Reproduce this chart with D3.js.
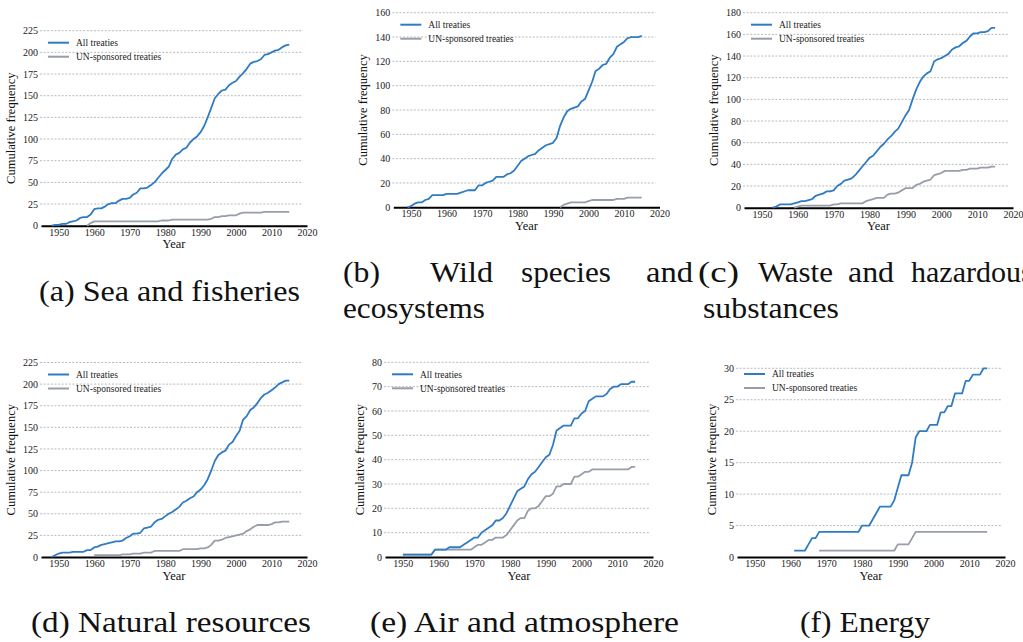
<!DOCTYPE html>
<html><head><meta charset="utf-8">
<script src="https://cdn.jsdelivr.net/npm/d3@7/dist/d3.min.js"></script>
<style>
body{margin:0;background:#fff}
svg{display:block}
svg text{font-family:"Liberation Serif","DejaVu Serif","Times New Roman",serif}
</style>
</head><body>
<svg id="chart" width="1023" height="642"></svg>
<script>
// ---------- data (cumulative counts per year) ----------
const xTickLabels = [1950, 1960, 1970, 1980, 1990, 2000, 2010, 2020];
const seriesNames = ["All treaties", "UN-sponsored treaties"];

const seaAllStart = 1948;
const seaAll = [0,1,1,2,2,4,5,6,9,10,10,13,19,20,20,22,25,26,26,29,31,31,32,36,38,43,43,44,47,50,55,60,64,68,77,82,84,88,90,96,100,103,108,115,125,136,147,152,156,157,162,165,167,172,176,181,187,189,190,192,197,198,200,202,203,206,208,209];
const seaUNStart = 1958;
const seaUN = [0,3,5,5,5,5,5,5,5,5,5,5,5,5,5,5,5,5,5,5,5,6,6,6,7,7,7,7,7,7,7,7,7,7,7,8,10,10,11,11,12,12,12,14,15,15,15,15,15,15,16,16,16,16,16,16,16,16];

const wildAllStart = 1949;
const wildAll = [0,1,3,4,4,6,7,10,10,10,10,11,11,11,11,12,13,14,14,14,18,18,20,21,22,25,25,25,27,28,30,34,38,40,42,43,44,47,49,51,52,53,57,67,74,79,81,82,83,87,89,96,103,112,114,117,118,123,126,132,134,136,139,140,140,140,141];
const wildUNStart = 1992;
const wildUN = [0,2,3,4,4,4,4,4,5,6,6,6,6,6,6,6,7,7,7,8,8,8,8,8];

const wasteAllStart = 1953;
const wasteAll = [0,1,3,3,3,3,4,5,6,6,7,8,11,12,13,15,15,16,20,22,25,26,27,30,34,38,42,46,48,52,56,59,63,66,70,73,79,85,90,100,109,116,121,124,126,135,137,138,140,142,146,148,149,152,154,158,161,161,162,162,163,166,166];
const wasteUNStart = 1959;
const wasteUN = [0,1,2,2,2,2,2,2,2,2,2,3,3,4,4,4,4,4,4,4,6,7,8,9,9,9,12,13,13,14,16,18,18,18,21,22,24,25,26,30,31,32,34,34,34,34,34,35,35,36,36,36,37,37,37,38,38];

const natAllStart = 1948;
const natAll = [0,2,4,5,5,5,6,6,6,6,8,8,11,12,14,15,16,17,18,18,19,22,24,27,27,28,33,34,35,40,43,44,47,50,52,55,58,63,65,68,70,75,78,83,90,100,111,118,121,123,130,133,140,146,159,163,170,173,178,184,188,190,193,196,200,202,204,204];
const natUNStart = 1960;
const natUN = [2,2,2,2,2,2,2,2,3,3,3,4,4,4,5,5,5,7,7,7,7,7,7,7,7,9,9,9,9,9,10,10,11,14,19,19,20,22,23,24,25,26,27,30,32,35,37,37,37,37,38,40,40,41,41,41];

const airAllStart = 1950;
const airAll = [1,1,1,1,1,1,1,1,1,3,3,3,3,4,4,4,4,5,6,7,8,8,10,11,12,13,15,15,16,18,21,24,27,28,29,32,34,35,37,39,41,42,46,52,53,54,54,54,57,57,59,60,64,65,66,66,66,67,69,70,70,71,71,71,72,72];
const airUNStart = 1950;
const airUN = [1,1,1,1,1,1,1,1,1,3,3,3,3,3,3,3,3,3,3,3,4,5,5,6,7,7,8,8,8,9,11,13,15,16,16,19,20,20,21,23,25,25,26,29,29,30,30,30,33,33,34,35,35,36,36,36,36,36,36,36,36,36,36,36,37,37];

const energyAllStart = 1961;
const energyAll = [1,1,1,1,2,3,3,4,4,4,4,4,4,4,4,4,4,4,4,5,5,5,6,7,8,8,8,8,9,11,13,13,13,15,19,20,20,20,21,21,21,23,23,24,24,26,26,26,28,28,29,29,29,30,30];
const energyUNStart = 1968;
const energyUN = [1,1,1,1,1,1,1,1,1,1,1,1,1,1,1,1,1,1,1,1,1,1,2,2,2,2,3,4,4,4,4,4,4,4,4,4,4,4,4,4,4,4,4,4,4,4,4,4];

const seaTicks = [0,25,50,75,100,125,150,175,200,225];
const wildTicks = [0,20,40,60,80,100,120,140,160];
const wasteTicks = [0,20,40,60,80,100,120,140,160,180];
const natTicks = [0,25,50,75,100,125,150,175,200,225];
const airTicks = [0,10,20,30,40,50,60,70,80];
const energyTicks = [0,5,10,15,20,25,30];

// ---------- layout ----------
const BLUE = "#2f7bc4", GREY = "#989dab";
const svg = d3.select("#chart");

const toPts = (start, vals) => vals.map((v, i) => [start + i, v]);

const panels = [
  {x0:41, x1:307, y0:225.7, yT:30.7, ymax:225, ticks:seaTicks,
   all:toPts(seaAllStart, seaAll), un:toPts(seaUNStart, seaUN)},
  {x0:393.3, x1:659.5, y0:207.3, yT:12.7, ymax:160, ticks:wildTicks,
   all:toPts(wildAllStart, wildAll), un:toPts(wildUNStart, wildUN)},
  {x0:744, x1:1013, y0:207.7, yT:12.7, ymax:180, ticks:wasteTicks,
   all:toPts(wasteAllStart, wasteAll), un:toPts(wasteUNStart, wasteUN)},
  {x0:41, x1:307, y0:557, yT:362.5, ymax:225, ticks:natTicks,
   all:toPts(natAllStart, natAll), un:toPts(natUNStart, natUN)},
  {x0:385, x1:653, y0:557, yT:362.3, ymax:80, ticks:airTicks,
   all:toPts(airAllStart, airAll), un:toPts(airUNStart, airUN)},
  {x0:737, x1:1005, y0:557, yT:362, ymax:31, ticks:energyTicks,
   all:toPts(energyAllStart, energyAll), un:toPts(energyUNStart, energyUN)}
];

panels.forEach(p => {
  const x = d3.scaleLinear().domain([1945, 2020]).range([p.x0, p.x1]);
  const y = d3.scaleLinear().domain([0, p.ymax]).range([p.y0, p.yT]);
  const g = svg.append("g");

  // gridlines
  g.append("g").selectAll("line").data(p.ticks.filter(d => d > 0)).join("line")
    .attr("x1", p.x0 - 1).attr("x2", p.x1 - 4)
    .attr("y1", d => y(d)).attr("y2", d => y(d))
    .attr("stroke", "#a8a8a8").attr("stroke-width", 0.8)
    .attr("stroke-dasharray", "2,1.6");

  // y axis (labels only)
  const ya = g.append("g").attr("transform", `translate(${p.x0},0)`)
    .call(d3.axisLeft(y).tickValues(p.ticks).tickSize(0).tickPadding(3));
  ya.select(".domain").remove();
  ya.attr("font-family", null);
  ya.selectAll("text").attr("font-size", 10).attr("fill", "#222");

  // x axis
  const xa = g.append("g").attr("transform", `translate(0,${p.y0})`)
    .call(d3.axisBottom(x).tickValues(xTickLabels).tickSize(0).tickSizeOuter(0)
      .tickPadding(3).tickFormat(d3.format("d")));
  xa.attr("font-family", null);
  xa.select(".domain").attr("stroke", "#000").attr("stroke-width", 2);
  xa.selectAll("text").attr("font-size", 10).attr("fill", "#222");

  // axis titles
  g.append("text").attr("x", (p.x0 + p.x1) / 2).attr("y", p.y0 + 22.5)
    .attr("text-anchor", "middle").attr("font-size", 12.5)
    .attr("fill", "#111").text("Year");
  const maxDigits = d3.max(p.ticks, d => String(d).length);
  const lx = p.x0 - 3 - maxDigits * 5 - 8;
  g.append("text").attr("transform", `translate(${lx},${(p.y0 + p.yT) / 2}) rotate(-90)`)
    .attr("text-anchor", "middle").attr("font-size", 12.5)
    .attr("fill", "#111").text("Cumulative frequency");

  // lines
  const line = d3.line().x(d => x(d[0])).y(d => y(d[1]));
  g.append("path").datum(p.un).attr("d", line).attr("fill", "none")
    .attr("stroke", GREY).attr("stroke-width", 1.8).attr("stroke-linejoin", "round");
  g.append("path").datum(p.all).attr("d", line).attr("fill", "none")
    .attr("stroke", BLUE).attr("stroke-width", 1.8).attr("stroke-linejoin", "round");

  // legend
  const top = p.yT;
  const lg = g.append("g");
  [[BLUE, seriesNames[0], 12], [GREY, seriesNames[1], 26]].forEach(([c, t, dy]) => {
    lg.append("line").attr("x1", p.x0 + 7).attr("x2", p.x0 + 28)
      .attr("y1", top + dy).attr("y2", top + dy)
      .attr("stroke", c).attr("stroke-width", 2);
    lg.append("text").attr("x", p.x0 + 35).attr("y", top + dy + 3.3)
      .attr("font-size", 9.5).attr("fill", "#222").text(t);
  });
});

// ---------- captions ----------
const captionWords = [
  {t:"(a) Sea and fisheries", x:39, y:301, w:261},
  {t:"(b)", x:343, y:282, w:37},
  {t:"Wild", x:430, y:282, w:63},
  {t:"species", x:521, y:282, w:90},
  {t:"and", x:646, y:282, w:47},
  {t:"ecosystems", x:343, y:318, w:142},
  {t:"(c)", x:698, y:282, w:41},
  {t:"Waste", x:758, y:282, w:75},
  {t:"and", x:848, y:282, w:46},
  {t:"hazardous", x:911, y:282, w:0},
  {t:"substances", x:703, y:318, w:136},
  {t:"(d) Natural resources", x:31, y:632, w:280},
  {t:"(e) Air and atmosphere", x:370, y:632, w:309},
  {t:"(f) Energy", x:800, y:632, w:130}
];
svg.append("g").selectAll("text").data(captionWords).join("text")
  .attr("x", d => d.x).attr("y", d => d.y)
  .attr("font-size", 30).attr("fill", "#111")
  .each(function(d){ if (d.w) d3.select(this).attr("textLength", d.w).attr("lengthAdjust", "spacingAndGlyphs"); })
  .text(d => d.t);
</script>
</body></html>
